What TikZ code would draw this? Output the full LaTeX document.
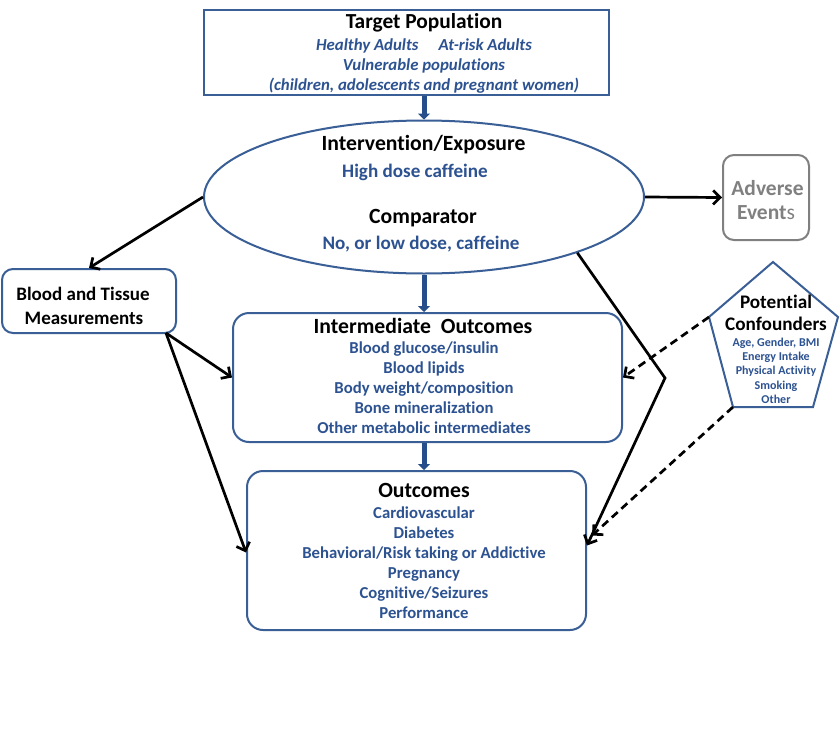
\documentclass[tikz,border=0pt]{standalone}
\usepackage{fontspec}
\setmainfont[Ligatures={NoCommon,NoContextual}]{Carlito}
\usetikzlibrary{arrows.meta,shapes.geometric}
\definecolor{bord}{RGB}{58,95,150}
\definecolor{btxt}{RGB}{44,82,145}
\definecolor{fatc}{RGB}{38,78,138}
\definecolor{gry}{RGB}{128,128,128}
\tikzset{
  boxline/.style={draw=bord, line width=2pt, inner sep=0pt},
  rbox/.style={boxline, rounded corners=16pt},
  fatarrow/.style={draw=fatc, line width=5pt, -{Triangle[width=12pt,length=6pt]}},
  blackarrow/.style={draw=black, line width=2.7pt, -{Straight Barb[length=7pt,width=14pt]}},
  dasharrow/.style={blackarrow, dash pattern=on 8pt off 5pt},
  ttl/.style={font=\bfseries\fontsize{21.7}{24}\selectfont, text=black, inner sep=0pt},
  bl/.style={font=\bfseries\fontsize{19.1}{22}\selectfont, text=btxt, inner sep=0pt},
  bli/.style={font=\bfseries\itshape\fontsize{16.8}{19}\selectfont, text=btxt, inner sep=0pt},
  items/.style={font=\bfseries\fontsize{16.7}{20}\selectfont, text=btxt, inner sep=0pt, align=center},
}
\begin{document}
\begin{tikzpicture}[x=1pt,y=-1pt]
\useasboundingbox[fill=white] (0,0) rectangle (840,734);

% Target population
\node[boxline, minimum width=405pt, minimum height=85pt] (tp) at (406.5,52.5) {};
\node[ttl, font=\bfseries\fontsize{21.4}{24}\selectfont] (tpt) at (424,23) {Target Population};
\node[bli] (tp1) at (424,46) {Healthy Adults\hspace{1.2em}At-risk Adults};
\node[bli] (tp2) at (424,66) {Vulnerable populations};
\node[bli] (tp3) at (424,86) {(children, adolescents and pregnant women)};

% Ellipse
\node[ellipse, boxline, minimum width=440pt, minimum height=153pt] (ie) at (424,197) {};
\node[ttl] (iet) at (423.5,145) {Intervention/Exposure};
\node[bl] (ie1) at (415,172.5) {High dose caffeine};
\node[ttl] (iec) at (423,218) {Comparator};
\node[bl] (ie2) at (421,244.5) {No, or low dose, caffeine};

% Adverse events
\node[draw=gry, line width=2pt, rounded corners=11pt, minimum width=86pt, minimum height=85pt, inner sep=0pt] (ad) at (766,197.5) {};
\node[font=\bfseries\fontsize{21.5}{24}\selectfont, text=gry, inner sep=0pt] (ad1) at (767.5,188) {Adverse};
\node[font=\bfseries\fontsize{21.5}{24}\selectfont, text=gry, inner sep=0pt] (ad2) at (766,213) {Event{\mdseries s}};

% Blood and tissue
\node[boxline, rounded corners=11pt, minimum width=174pt, minimum height=64pt] (bt) at (89,301) {};
\node[ttl, font=\bfseries\fontsize{19}{22}\selectfont] (bt1) at (83,294) {Blood and Tissue};
\node[ttl, font=\bfseries\fontsize{19}{22}\selectfont] (bt2) at (84,318) {Measurements};
\coordinate (bse) at (166,333);

% Intermediate outcomes
\node[rbox, minimum width=389pt, minimum height=129pt] (im) at (427.5,377.5) {};
\node[ttl] (imt) at (423,325.5) {Intermediate\ \ Outcomes};
\node[items, anchor=north] (imi) at (424,342) {Blood glucose/insulin\\Blood lipids\\Body weight/composition\\Bone mineralization\\Other metabolic intermediates};

% Outcomes
\node[rbox, minimum width=339pt, minimum height=159pt] (oc) at (416.5,550.5) {};
\node[ttl] (oct) at (424,490.5) {Outcomes};
\node[items, anchor=north] (oci) at (424,507) {Cardiovascular\\Diabetes\\Behavioral/Risk taking or Addictive\\Pregnancy\\Cognitive/Seizures\\Performance};

% Potential confounders (pentagon)
\coordinate (pT) at (773,262);
\coordinate (pR) at (838,317);
\coordinate (pBR) at (813,407);
\coordinate (pBL) at (733,407);
\coordinate (pL) at (709,317);
\draw[draw=bord, line width=2pt, line join=miter] (pT) -- (pR) -- (pBR) -- (pBL) -- (pL) -- cycle;
\node[ttl, font=\bfseries\fontsize{19.2}{22}\selectfont] (pc1) at (776,301.5) {Potential};
\node[ttl, font=\bfseries\fontsize{19.2}{22}\selectfont] (pc2) at (776,324) {Confounders};
\node[font=\bfseries\fontsize{12}{14.3}\selectfont, text=btxt, inner sep=0pt, align=center, anchor=north] (pci) at (776,337.5) {Age, Gender, BMI\\Energy Intake\\Physical Activity\\Smoking\\Other};

% Thick blue arrows
\draw[fatarrow] (ie.north |- tp.south) -- (ie.north);
\draw[fatarrow] (ie.south) -- (ie.south |- im.north);
\draw[fatarrow] (ie.south |- im.south) -- (ie.south |- oc.north);

% Black arrows
\draw[blackarrow] (ie.east) -- (ad.west);
\draw[blackarrow] (ie.west) -- (bt.north);
\draw[blackarrow] (bse) -- (im.west);
\draw[blackarrow] (bse) -- ([yshift=-2pt]oc.west);
\coordinate (bend) at (665,378);
\draw[blackarrow, line join=miter] (ie.-20.6) -- (bend) -- ([yshift=5pt]oc.east);

% Dashed arrows
\draw[dasharrow] (pL) -- (im.east);
\draw[dasharrow] (pBL) -- ([xshift=5pt,yshift=15pt]oc.east);
\end{tikzpicture}
\end{document}
